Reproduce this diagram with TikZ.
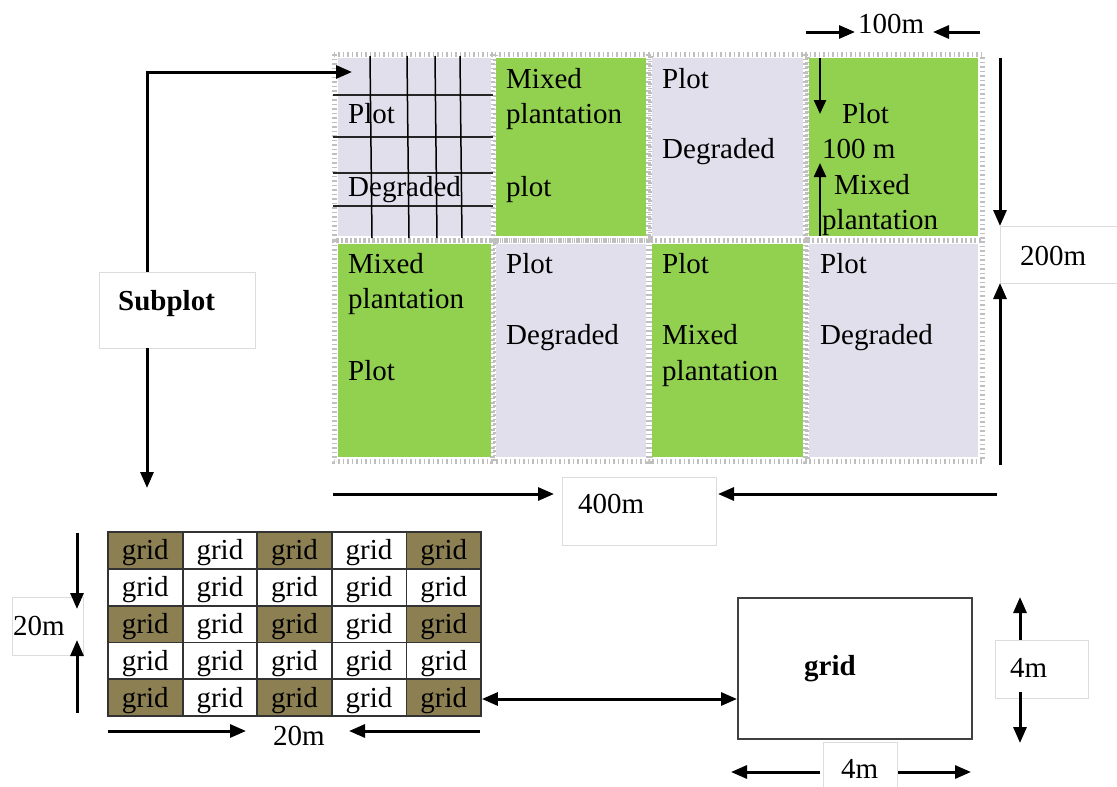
\documentclass[tikz,border=0pt]{standalone}
\usepackage{fontspec}
\setmainfont{Liberation Serif}
\usetikzlibrary{arrows.meta}
\definecolor{lav}{HTML}{E2DFEC}
\definecolor{lgreen}{HTML}{92D050}
\definecolor{olive}{HTML}{8C7F52}
\definecolor{boxline}{HTML}{DCDCDC}
\begin{document}
\begin{tikzpicture}[x=1pt,y=-1pt,
  txt/.style={anchor=base west, inner sep=0pt, font=\fontsize{29}{34}\selectfont},
  btxt/.style={txt, font=\fontsize{29}{34}\selectfont\bfseries},
  arr/.style={line width=3pt, -{Triangle[length=16pt,width=13pt]}},
  darr/.style={line width=3pt, {Triangle[length=16pt,width=13pt]}-{Triangle[length=16pt,width=13pt]}},
  sarr/.style={line width=2.4pt, -{Triangle[length=14pt,width=12pt]}},
  hatch/.style={draw=gray!50, line width=5pt, dash pattern=on 1.5pt off 3pt},
  lbox/.style={draw=boxline, line width=1.2pt, fill=white, inner sep=0pt, anchor=north west},
  cell/.style={draw=gray!40!black, line width=1.8pt, minimum width=74.6pt, minimum height=36.8pt,
    inner sep=0pt, text height=19pt, text depth=0pt, font=\fontsize{29}{34}\selectfont},
]
\useasboundingbox (0,0) rectangle (1117,787);
\fill[white] (0,0) rectangle (1117,787);

% ---------- big plot tiles ----------
\foreach \xa/\ya/\xb/\yb/\col in {
  338/58/491/236/lav, 496/58/646/236/lgreen, 652/58/803/236/lav, 809/58/978/236/lgreen,
  338/244/491/457/lgreen, 496/244/646/457/lav, 652/244/803/457/lgreen, 809/244/978/457/lav}{
  \draw[hatch] (\xa-4,\ya-4) rectangle (\xb+4,\yb+4);
}
\foreach \xa/\ya/\xb/\yb/\col in {
  338/58/491/236/lav, 496/58/646/236/lgreen, 652/58/803/236/lav, 809/58/978/236/lgreen,
  338/244/491/457/lgreen, 496/244/646/457/lav, 652/244/803/457/lgreen, 809/244/978/457/lav}{
  \fill[\col] (\xa,\ya) rectangle (\xb,\yb);
}
% grid lines in first tile
\foreach \yy in {95,137,173,206}{
  \draw[gray!30!black, line width=2.5pt] (333,\yy) -- (493,\yy);
}
\foreach \xx in {370,407,435,460}{
  \draw[black, line width=1.5pt] (\xx,56) -- (\xx+2,238);
}

% tile texts
\node[txt] (t1a) at (348,123) {Plot};
\node[txt] (t1b) at (348,196) {Degraded};
\node[txt] (t2a) at (506,88) {Mixed};
\node[txt] (t2b) at (506,123) {plantation};
\node[txt] (t2c) at (506,196) {plot};
\node[txt] (t3a) at (662,88) {Plot};
\node[txt] (t3b) at (662,158) {Degraded};
\node[txt] (t4a) at (842,123) {Plot};
\node[txt] (t4b) at (822,158) {100 m};
\node[txt] (t4c) at (834,194) {Mixed};
\node[txt] (t4d) at (822,229) {plantation};
\node[txt] (t5a) at (348,273) {Mixed};
\node[txt] (t5b) at (348,308) {plantation};
\node[txt] (t5c) at (348,380) {Plot};
\node[txt] (t6a) at (506,273) {Plot};
\node[txt] (t6b) at (506,344) {Degraded};
\node[txt] (t7a) at (662,273) {Plot};
\node[txt] (t7b) at (662,344) {Mixed};
\node[txt] (t7c) at (662,380) {plantation};
\node[txt] (t8a) at (820,273) {Plot};
\node[txt] (t8b) at (820,344) {Degraded};

% arrows inside tile 4
\coordinate (i4top) at (820,58);
\coordinate (i4topend) at (820,114);
\coordinate (i4bot) at (820,236);
\coordinate (i4botend) at (820,163);
\draw[sarr] (i4top) -- (i4topend);
\draw[sarr] (i4bot) -- (i4botend);

% ---------- 100m ----------
\node[txt] (l100) at (858,33) {100m};
\coordinate (h1a) at (806,32); \coordinate (h1b) at (855,32);
\coordinate (h2a) at (980,32); \coordinate (h2b) at (933,32);
\draw[arr] (h1a) -- (h1b);
\draw[arr] (h2a) -- (h2b);

% ---------- 200m ----------
\node[lbox, minimum width=140pt, minimum height=57pt] (b200) at (1000,226) {};
\node[txt] (l200) at (1020,265) {200m};
\coordinate (v1a) at (1000,58); \coordinate (v1b) at (1000,226);
\coordinate (v2a) at (1000,465); \coordinate (v2b) at (1000,283);
\draw[arr] (v1a) -- (v1b);
\draw[arr] (v2a) -- (v2b);

% ---------- 400m ----------
\node[lbox, minimum width=154pt, minimum height=68pt] (b400) at (562,477) {};
\node[txt] (l400) at (578,513) {400m};
\coordinate (w1a) at (333,494); \coordinate (w1b) at (554,494);
\coordinate (w2a) at (997,494); \coordinate (w2b) at (718,494);
\draw[arr] (w1a) -- (w1b);
\draw[arr] (w2a) -- (w2b);

% ---------- Subplot ----------
\node[lbox, minimum width=156pt, minimum height=76pt] (sub) at (99,272) {};
\node[btxt] (lsub) at (118,310) {Subplot};
\coordinate (subtop) at (147,272);
\coordinate (tilein) at (352,72);
\coordinate (subbot) at (147,348);
\coordinate (gridin) at (147,488);
\draw[arr] (subtop) |- (tilein);
\draw[arr] (subbot) -- (gridin);

% ---------- 5x5 grid ----------
\foreach \r in {0,...,4}{
  \foreach \c in {0,...,4}{
    \pgfmathsetmacro{\cx}{108+74.6*\c+37.3}
    \pgfmathsetmacro{\cy}{532+36.8*\r+18.4}
    \pgfmathparse{(mod(\r,2)==0 && mod(\c,2)==0) ? "olive" : "white"}
    \edef\cellcol{\pgfmathresult}
    \node[cell, fill=\cellcol] (g\r\c) at (\cx,\cy) {grid};
  }
}

% 20m left
\node[lbox, minimum width=71pt, minimum height=58pt] (b20) at (12,597) {};
\node[txt] (l20a) at (13,635) {20m};
\coordinate (u1a) at (77,533); \coordinate (u1b) at (77,609);
\coordinate (u2a) at (77,713); \coordinate (u2b) at (77,640);
\draw[arr] (u1a) -- (u1b);
\draw[arr] (u2a) -- (u2b);

% 20m bottom
\node[txt] (l20b) at (273,745) {20m};
\coordinate (k1a) at (108,731); \coordinate (k1b) at (246,731);
\coordinate (k2a) at (480,731); \coordinate (k2b) at (349,731);
\draw[arr] (k1a) -- (k1b);
\draw[arr] (k2a) -- (k2b);

% ---------- single grid ----------
\node[draw=gray!50!black, line width=1.5pt, fill=white, anchor=north west,
      minimum width=234pt, minimum height=141pt, inner sep=0pt] (big) at (737,597) {};
\node[btxt, anchor=base] (lbig) at (830,675) {grid};
\draw[darr] (g44.east |- 0,699) -- (big.west |- 0,699);

% 4m right
\node[lbox, minimum width=93pt, minimum height=58pt] (b4r) at (995,640) {};
\node[txt] (l4r) at (1010,677) {4m};
\coordinate (m1a) at (1020,640); \coordinate (m1b) at (1020,597);
\coordinate (m2a) at (1020,692); \coordinate (m2b) at (1020,743);
\draw[arr] (m1a) -- (m1b);
\draw[arr] (m2a) -- (m2b);

% 4m bottom
\node[lbox, minimum width=74pt, minimum height=50pt] (b4b) at (823,742) {};
\node[txt] (l4b) at (841,778) {4m};
\coordinate (n1a) at (820,772); \coordinate (n1b) at (731,772);
\coordinate (n2a) at (898,772); \coordinate (n2b) at (971,772);
\draw[arr] (n1a) -- (n1b);
\draw[arr] (n2a) -- (n2b);
\end{tikzpicture}
\end{document}
